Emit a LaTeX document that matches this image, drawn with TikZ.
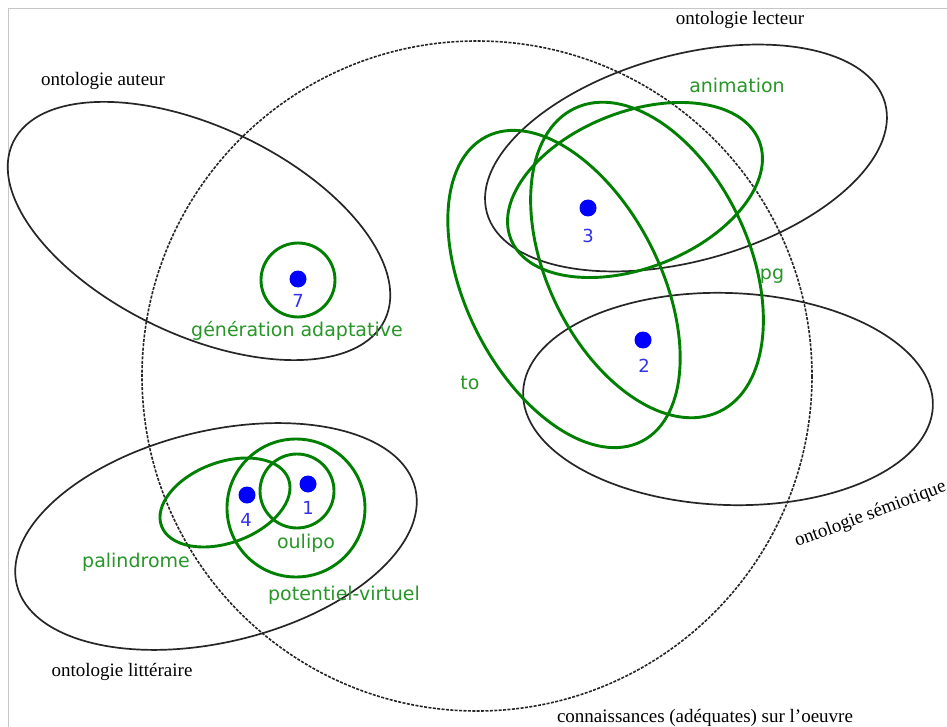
\documentclass[tikz,border=0pt]{standalone}
\usepackage{fontspec}
\setmainfont{Liberation Serif}
\newfontfamily\gsans{DejaVu Sans}
\definecolor{lgreen}{RGB}{0,128,0}
\definecolor{tgreen}{RGB}{40,150,40}
\definecolor{dblue}{RGB}{0,0,255}
\definecolor{tblue}{RGB}{50,50,230}
\begin{document}
\begin{tikzpicture}[x=1pt,y=-1pt,
  blk/.style={draw=black!85,line width=1.7pt},
  grn/.style={draw=lgreen,line width=2.9pt},
  dcirc/.style={draw=black!85,line width=1.6pt,dash pattern=on 3pt off 1.4pt},
  slabel/.style={font=\fontsize{19}{22}\selectfont,text=black,inner sep=0pt},
  glabel/.style={font=\gsans\fontsize{19}{22}\selectfont,text=tgreen,inner sep=0pt},
  nlabel/.style={font=\gsans\fontsize{18}{21}\selectfont,text=tblue,inner sep=0pt},
  dotn/.style={circle,fill=dblue,minimum size=17pt,inner sep=0pt}]
\fill[white] (0,0) rectangle (947,727);
\useasboundingbox (0,0) rectangle (947,727);
\draw[gray!45,line width=1pt] (8,727) -- (8,9) -- (947,9);

% black ontology ellipses
\coordinate (cAut) at (199,231);
\coordinate (cLec) at (686,158);
\coordinate (cSem) at (728,399);
\coordinate (cLit) at (216,536.5);
\coordinate (cCon) at (477,376);
\draw[blk,rotate around={-25.5:(cAut)}] (cAut) ellipse [x radius=206,y radius=104];
\draw[blk,rotate around={15.4:(cLec)}] (cLec) ellipse [x radius=206.5,y radius=103];
\draw[blk,rotate around={-2:(cSem)}] (cSem) ellipse [x radius=205,y radius=106];
\draw[blk,rotate around={13.6:(cLit)}] (cLit) ellipse [x radius=205,y radius=105.6];
\draw[dcirc] (cCon) circle [radius=335];

% green concept shapes
\coordinate (cTo) at (564,289);
\coordinate (cPg) at (647,260);
\coordinate (cAni) at (635,190);
\coordinate (cPal) at (225,502.5);
\draw[grn,rotate around={-63:(cTo)}] (cTo) ellipse [x radius=171,y radius=97];
\draw[grn,rotate around={-64.5:(cPg)}] (cPg) ellipse [x radius=168,y radius=101];
\draw[grn,rotate around={21.5:(cAni)}] (cAni) ellipse [x radius=133.5,y radius=78];
\draw[grn,rotate around={20.3:(cPal)}] (cPal) ellipse [x radius=67.7,y radius=40.3];
\draw[grn] (298,280) circle [radius=37];
\draw[grn] (297,491) circle [radius=37];
\draw[grn] (296,508) circle [radius=69];

% dots
\node[dotn] (d7) at (298,279) {};
\node[dotn] (d3) at (588,208) {};
\node[dotn] (d2) at (643,340) {};
\node[dotn] (d4) at (247,495) {};
\node[dotn] (d1) at (308,484) {};
\node[nlabel] (n7) at (298,301) {7};
\node[nlabel] (n3) at (588,236) {3};
\node[nlabel] (n2) at (644,366) {2};
\node[nlabel] (n4) at (246,520) {4};
\node[nlabel] (n1) at (308,508) {1};

% green labels
\node[glabel] (lani) at (737,85) {animation};
\node[glabel] (lpg) at (772,276) {pg};
\node[glabel] (lto) at (470,383) {to};
\node[glabel] (lgen) at (297,331) {génération adaptative};
\node[glabel] (lpal) at (136,562) {palindrome};
\node[glabel] (loul) at (306,543) {oulipo};
\node[glabel] (lpv) at (344,595) {potentiel-virtuel};

% black labels
\node[slabel] (laut) at (103,81) {ontologie auteur};
\node[slabel] (llec) at (740,20) {ontologie lecteur};
\node[slabel] (llit) at (122,672) {ontologie littéraire};
\node[slabel,anchor=base west,rotate=20.5] (lsem) at (797,547) {ontologie sémiotique};
\node[slabel] (lcon) at (705,718) {connaissances (adéquates) sur l'oeuvre};
\end{tikzpicture}
\end{document}
